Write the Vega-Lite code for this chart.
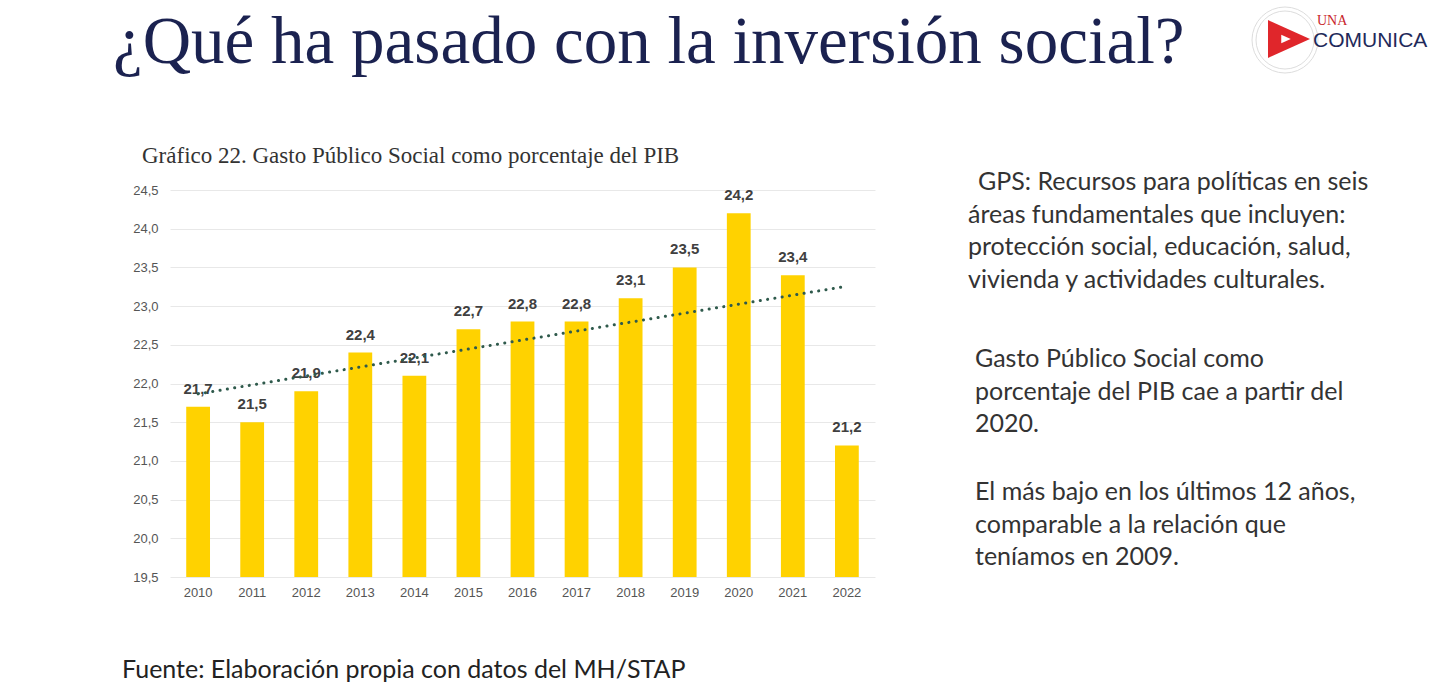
{
  "$schema": "https://vega.github.io/schema/vega-lite/v6.json",
  "width": 705,
  "height": 387,
  "autosize": {"type": "none"},
  "padding": {"left": 170, "top": 190, "right": 574, "bottom": 116},
  "background": "#ffffff",
  "config": {
    "view": {"stroke": null},
    "locale": {"number": {"decimal": ",", "thousands": ".", "grouping": [3], "currency": ["", " €"]}}
  },
  "datasets": {
    "gps": [
      {"anio": 2010, "valor": 21.7},
      {"anio": 2011, "valor": 21.5},
      {"anio": 2012, "valor": 21.9},
      {"anio": 2013, "valor": 22.4},
      {"anio": 2014, "valor": 22.1},
      {"anio": 2015, "valor": 22.7},
      {"anio": 2016, "valor": 22.8},
      {"anio": 2017, "valor": 22.8},
      {"anio": 2018, "valor": 23.1},
      {"anio": 2019, "valor": 23.5},
      {"anio": 2020, "valor": 24.2},
      {"anio": 2021, "valor": 23.4},
      {"anio": 2022, "valor": 21.2}
    ]
  },
  "encoding": {
    "x": {
      "field": "anio",
      "type": "ordinal",
      "scale": {"paddingInner": 0.56, "paddingOuter": 0.3},
      "axis": {
        "title": null,
        "labelAngle": 0,
        "labelFont": "Liberation Sans",
        "labelFontSize": 13,
        "labelColor": "#555555",
        "labelPadding": 9,
        "ticks": false,
        "domain": false
      }
    },
    "y": {
      "field": "valor",
      "type": "quantitative",
      "scale": {"domain": [19.5, 24.5], "zero": false, "nice": false},
      "axis": {
        "title": null,
        "values": [19.5, 20, 20.5, 21, 21.5, 22, 22.5, 23, 23.5, 24, 24.5],
        "format": ".1f",
        "grid": true,
        "gridColor": "#e8e8e8",
        "gridWidth": 1,
        "domain": false,
        "ticks": false,
        "labelPadding": 12,
        "labelFont": "Liberation Sans",
        "labelFontSize": 13,
        "labelColor": "#555555"
      }
    }
  },
  "layer": [
    {
      "data": {"name": "gps"},
      "mark": {"type": "bar", "color": "#FFD200"},
      "encoding": {"y2": {"datum": 19.5}}
    },
    {
      "data": {"name": "gps"},
      "mark": {
        "type": "text",
        "dy": -13,
        "baseline": "alphabetic",
        "font": "Liberation Sans",
        "fontSize": 15,
        "fontWeight": "bold",
        "color": "#404040"
      },
      "encoding": {"text": {"field": "valor", "type": "quantitative", "format": ".1f"}}
    },
    {
      "data": {"name": "gps"},
      "transform": [{"regression": "valor", "on": "anio", "extent": [2010, 2022]}],
      "mark": {
        "type": "line",
        "color": "#2f5a4c",
        "strokeWidth": 3,
        "strokeDash": [0.1, 7.3],
        "strokeCap": "round"
      }
    },
    {
      "data": {"values": [{"t": "¿Qué ha pasado con la inversión social?"}]},
      "mark": {
        "type": "text",
        "align": "left",
        "baseline": "alphabetic",
        "font": "Liberation Serif",
        "fontSize": 67,
        "color": "#1b2250",
        "x": -57,
        "y": -127
      },
      "encoding": {"text": {"field": "t"}, "x": null, "y": null}
    },
    {
      "data": {"values": [{"t": "Gráfico 22. Gasto Público Social como porcentaje del PIB"}]},
      "mark": {
        "type": "text",
        "align": "left",
        "baseline": "alphabetic",
        "font": "Liberation Serif",
        "fontSize": 23,
        "color": "#333333",
        "x": -28,
        "y": -27
      },
      "encoding": {"text": {"field": "t"}, "x": null, "y": null}
    },
    {
      "data": {"values": [{"t": "GPS: Recursos para políticas en seis"}]},
      "mark": {
        "type": "text",
        "align": "left",
        "baseline": "alphabetic",
        "font": "Lato",
        "fontSize": 25,
        "color": "#333333",
        "x": 808,
        "y": 0
      },
      "encoding": {"text": {"field": "t"}, "x": null, "y": null}
    },
    {
      "data": {"values": [{}]},
      "mark": {
        "type": "text",
        "align": "left",
        "baseline": "alphabetic",
        "font": "Lato",
        "fontSize": 25,
        "lineHeight": 32.5,
        "color": "#333333",
        "x": 798,
        "y": 32.5
      },
      "encoding": {"text": {"value": ["áreas fundamentales que incluyen:", "protección social, educación, salud,", "vivienda y actividades culturales."]}, "x": null, "y": null}
    },
    {
      "data": {"values": [{}]},
      "mark": {
        "type": "text",
        "align": "left",
        "baseline": "alphabetic",
        "font": "Lato",
        "fontSize": 25,
        "lineHeight": 32.5,
        "color": "#333333",
        "x": 805,
        "y": 177
      },
      "encoding": {"text": {"value": ["Gasto Público Social como", "porcentaje del PIB cae a partir del", "2020."]}, "x": null, "y": null}
    },
    {
      "data": {"values": [{}]},
      "mark": {
        "type": "text",
        "align": "left",
        "baseline": "alphabetic",
        "font": "Lato",
        "fontSize": 25,
        "lineHeight": 32.5,
        "color": "#333333",
        "x": 805,
        "y": 310
      },
      "encoding": {"text": {"value": ["El más bajo en los últimos 12 años,", "comparable a la relación que", "teníamos en 2009."]}, "x": null, "y": null}
    },
    {
      "data": {"values": [{"t": "Fuente: Elaboración propia con datos del MH/STAP"}]},
      "mark": {
        "type": "text",
        "align": "left",
        "baseline": "alphabetic",
        "font": "Lato",
        "fontSize": 25,
        "color": "#222222",
        "x": -48,
        "y": 488
      },
      "encoding": {"text": {"field": "t"}, "x": null, "y": null}
    },
    {
      "data": {"values": [{"d": 58}, {"d": 66}]},
      "mark": {"type": "point", "shape": "circle", "filled": false, "stroke": "#d0d0d0", "strokeWidth": 1, "x": 1115, "y": -150},
      "encoding": {"size": {"field": "d", "type": "quantitative", "scale": {"type": "pow", "exponent": 2, "domain": [0, 66], "range": [0, 4356]}, "legend": null}, "x": null, "y": null}
    },
    {
      "data": {"values": [{}]},
      "mark": {"type": "point", "shape": "M-1,-0.9L1,0L-1,0.9Z", "filled": true, "color": "#e0262b", "opacity": 1, "size": 1764, "x": 1119, "y": -151},
      "encoding": {"x": null, "y": null}
    },
    {
      "data": {"values": [{}]},
      "mark": {"type": "point", "shape": "M-1,-0.9L1,0L-1,0.9Z", "filled": true, "color": "#ffffff", "opacity": 1, "size": 90, "x": 1116, "y": -151},
      "encoding": {"x": null, "y": null}
    },
    {
      "data": {"values": [{"t": "UNA"}]},
      "mark": {"type": "text", "align": "left", "baseline": "alphabetic", "font": "Liberation Serif", "fontSize": 14, "color": "#c8262c", "x": 1147, "y": -165},
      "encoding": {"text": {"field": "t"}, "x": null, "y": null}
    },
    {
      "data": {"values": [{"t": "COMUNICA"}]},
      "mark": {"type": "text", "align": "left", "baseline": "alphabetic", "font": "Liberation Sans", "fontSize": 21, "color": "#1f2a5a", "x": 1143, "y": -143},
      "encoding": {"text": {"field": "t"}, "x": null, "y": null}
    }
  ]
}
